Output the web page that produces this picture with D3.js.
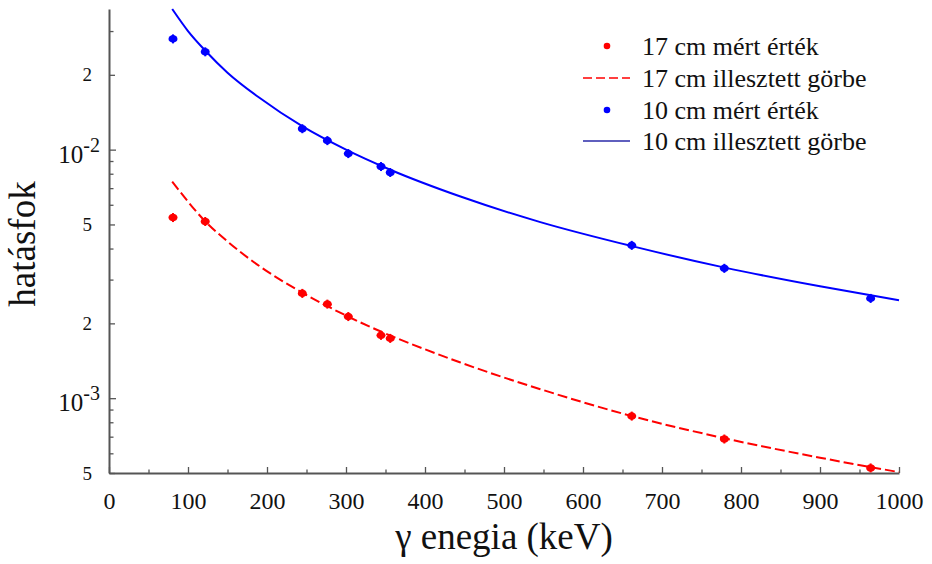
<!DOCTYPE html>
<html>
<head>
<meta charset="utf-8">
<script src="https://cdn.jsdelivr.net/npm/d3@7"></script>
<style>
  body { margin: 0; background: #fff; }
  svg { display: block; font-family: "Liberation Serif", "Times New Roman", serif; }
</style>
</head>
<body>
<div id="chart"></div>
<script>
// measured points (keV, efficiency)
const energies = [81.0, 121.8, 244.7, 276.4, 302.9, 344.3, 356.0, 661.7, 778.9, 964.1];
const eff17 = [0.00533, 0.00514, 0.00264, 0.00239, 0.00213, 0.00179, 0.00174, 0.000847, 0.000685, 0.000524];
const eff10 = [0.0279, 0.02475, 0.01214, 0.01087, 0.00964, 0.00855, 0.00809, 0.00412, 0.00333, 0.00252];

// fitted curves
const fit17E = [80, 122, 150, 191, 244, 302, 444, 546, 662, 778, 900, 1000];
const fit17 = [0.00744, 0.00514, 0.00427, 0.00339, 0.002665, 0.002135, 0.001395, 0.001087, 0.000847, 0.000691, 0.000576, 0.000504];
const fit10E = [80, 100, 122, 150, 190, 245, 300, 356, 444, 546, 662, 778, 900, 1000];
const fit10 = [0.0368, 0.0300, 0.0250, 0.0204, 0.0162, 0.0124, 0.0100, 0.0083, 0.00649, 0.00511, 0.00409, 0.00336, 0.00282, 0.00248];

const legendLabels = ["17 cm mért érték", "17 cm illesztett görbe", "10 cm mért érték", "10 cm illesztett görbe"];
const xTickValues = d3.range(0, 1001, 50);

(function () {
  const W = 932, H = 564;
  const left = 109, right = 899, top = 9, bottom = 473;
  const axisColor = "#555";
  const serif = "Liberation Serif, Times New Roman, serif";

  const svg = d3.select("#chart").append("svg").attr("width", W).attr("height", H);

  const x = d3.scaleLinear().domain([0, 1000]).range([left, right]);
  const y = d3.scaleLog().domain([0.0005, 0.0368]).range([bottom, top]);

  // x axis, ticks pointing inward
  const xAxis = svg.append("g")
    .attr("transform", `translate(0,${bottom})`)
    .call(d3.axisBottom(x)
      .tickValues(xTickValues)
      .tickSizeInner(-6)
      .tickSizeOuter(0)
      .tickPadding(19)
      .tickFormat((d) => (d % 100 === 0 ? d : "")));
  xAxis.select(".domain").attr("stroke", axisColor).attr("stroke-width", 2);
  xAxis.selectAll(".tick line")
    .attr("stroke", axisColor)
    .attr("stroke-width", 1.3)
    .attr("y2", (d) => (d % 100 === 0 ? -6 : -3.5));
  xAxis.selectAll(".tick text")
    .attr("fill", "#111")
    .attr("font-size", "24px")
    .attr("font-family", serif);

  // y axis (log), ticks pointing inward
  const yTicks = y.ticks();
  const yAxis = svg.append("g")
    .attr("transform", `translate(${left},0)`)
    .call(d3.axisLeft(y)
      .tickValues(yTicks)
      .tickSizeInner(-4)
      .tickSizeOuter(0)
      .tickFormat(""));
  yAxis.select(".domain").attr("stroke", axisColor).attr("stroke-width", 2);
  const lead = (d) => Math.round(d / Math.pow(10, Math.floor(Math.log10(d) + 1e-9)));
  yAxis.selectAll(".tick line")
    .attr("stroke", axisColor)
    .attr("stroke-width", 1.3)
    .attr("x2", (d) => {
      const m = lead(d);
      return m === 1 ? 7 : (m === 2 || m === 5) ? 6 : 4.5;
    });

  const labelled = yTicks.filter((d) => [1, 2, 5].includes(lead(d)));
  const ylab = svg.append("g").attr("fill", "#111");
  labelled.forEach((d) => {
    const m = lead(d);
    const py = y(d);
    if (m === 1) {
      const e = Math.round(Math.log10(d));
      const t = ylab.append("text").attr("text-anchor", "end").attr("x", 100).attr("y", py + 13);
      t.append("tspan").attr("font-size", "25px").text("10");
      t.append("tspan").attr("font-size", "20px").attr("dy", -11).text("-" + Math.abs(e));
    } else {
      ylab.append("text")
        .attr("text-anchor", "end")
        .attr("x", 92)
        .attr("y", py + 6.5)
        .attr("font-size", "19px")
        .text(m);
    }
  });

  // axis titles
  svg.append("text")
    .attr("x", (left + right) / 2)
    .attr("y", 549)
    .attr("text-anchor", "middle")
    .attr("font-size", "37px")
    .attr("fill", "#111")
    .text("γ enegia (keV)");

  svg.append("text")
    .attr("transform", `translate(35,${(top + bottom) / 2 + 3}) rotate(-90)`)
    .attr("text-anchor", "middle")
    .attr("font-size", "37px")
    .attr("fill", "#111")
    .text("hatásfok");

  // fitted curves
  const line = d3.line()
    .x((d) => x(d[0]))
    .y((d) => y(d[1]))
    .curve(d3.curveMonotoneX);

  svg.append("path")
    .datum(fit10E.map((e, i) => [e, fit10[i]]))
    .attr("d", line)
    .attr("fill", "none")
    .attr("stroke", "#0000ff")
    .attr("stroke-width", 2);

  svg.append("path")
    .datum(fit17E.map((e, i) => [e, fit17[i]]))
    .attr("d", line)
    .attr("fill", "none")
    .attr("stroke", "#ff0000")
    .attr("stroke-width", 2)
    .attr("stroke-dasharray", "10,4");

  // measured points with small error bars
  function drawPoints(vals, color) {
    const g = svg.append("g");
    const pts = energies.map((e, i) => [e, vals[i]]);
    g.selectAll("line")
      .data(pts)
      .join("line")
      .attr("x1", (d) => x(d[0]))
      .attr("x2", (d) => x(d[0]))
      .attr("y1", (d) => y(d[1]) - 4.5)
      .attr("y2", (d) => y(d[1]) + 4.5)
      .attr("stroke", color)
      .attr("stroke-width", 2);
    g.selectAll("ellipse")
      .data(pts)
      .join("ellipse")
      .attr("cx", (d) => x(d[0]))
      .attr("cy", (d) => y(d[1]))
      .attr("rx", 4.5)
      .attr("ry", 3.8)
      .attr("fill", color);
  }
  drawPoints(eff17, "#ff0000");
  drawPoints(eff10, "#0000ff");

  // legend
  const lg = svg.append("g").attr("font-size", "26px").attr("fill", "#111");
  const rowY = [46, 78, 110, 141];
  legendLabels.forEach((lab, i) => {
    const cy = rowY[i];
    if (i === 0 || i === 2) {
      lg.append("circle").attr("cx", 607).attr("cy", cy).attr("r", 3.3)
        .attr("fill", i === 0 ? "#ff0000" : "#0000ff");
    } else if (i === 1) {
      lg.append("line").attr("x1", 583).attr("x2", 630).attr("y1", cy).attr("y2", cy)
        .attr("stroke", "#ff0000").attr("stroke-width", 1.3).attr("stroke-dasharray", "9,4");
    } else {
      lg.append("line").attr("x1", 583).attr("x2", 630).attr("y1", cy).attr("y2", cy)
        .attr("stroke", "#2a2aa8").attr("stroke-width", 1.3);
    }
    lg.append("text").attr("x", 642).attr("y", cy + 9).text(lab);
  });
})();
</script>
</body>
</html>
